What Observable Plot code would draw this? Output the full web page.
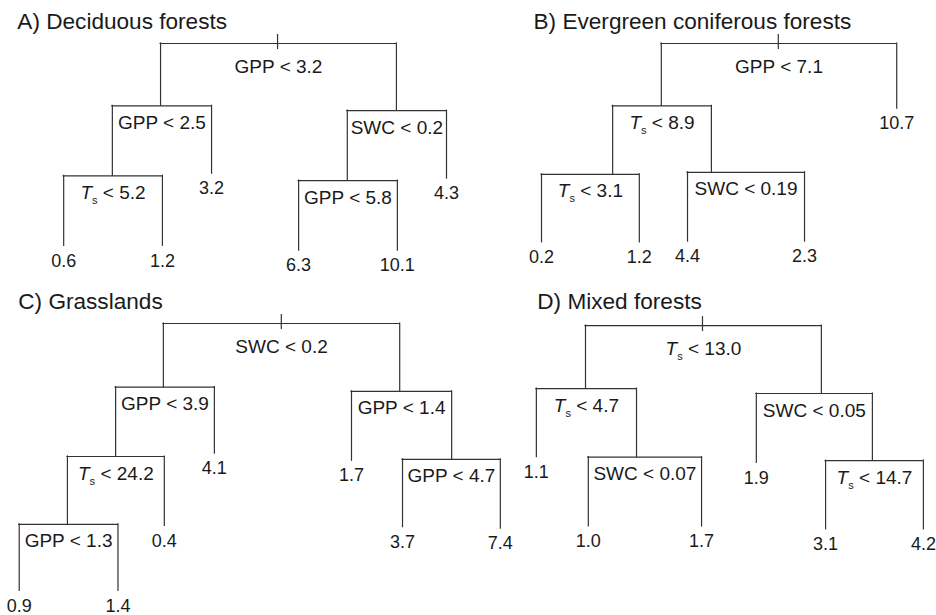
<!DOCTYPE html>
<html>
<head>
<meta charset="utf-8">
<script src="https://cdn.jsdelivr.net/npm/d3@7"></script>
<script src="https://cdn.jsdelivr.net/npm/@observablehq/plot@0.6"></script>
<style>
  html, body { margin: 0; padding: 0; background: #fff; }
  #chart { width: 936px; height: 615px; overflow: hidden; }
  #chart text { white-space: pre; }
</style>
</head>
<body>
<div id="chart"></div>
<script>
// ---------- Data ----------
const panelTitles = ["A) Deciduous forests", "B) Evergreen coniferous forests", "C) Grasslands", "D) Mixed forests"];
const panelCol = [0, 1, 0, 1];
const panelRow = [0, 0, 1, 1];
const titleX = [3.6, 13.9, 3.8, 14.7];   // panel-relative position (percent of panel width)

// A) Deciduous forests
const aParent = [-1, 0, 0, 1, 1, 2, 2, 3, 3, 5, 5];
const aLabel  = ["GPP < 3.2", "GPP < 2.5", "SWC < 0.2", "Ts < 5.2", "3.2", "GPP < 5.8", "4.3", "0.6", "1.2", "6.3", "10.1"];
const aX      = [59.2, 34.2, 84.6, 23.9, 45.1, 74.1, 95.3, 13.5, 34.6, 63.7, 84.8];
const aLevel  = [0, 0.89, 0.96, 1.89, 1.86, 1.96, 1.93, 2.89, 2.89, 2.96, 2.96];

// B) Evergreen coniferous forests
const bParent = [-1, 0, 0, 1, 1, 3, 3, 4, 4];
const bLabel  = ["GPP < 7.1", "Ts < 8.9", "10.7", "Ts < 3.1", "SWC < 0.19", "0.2", "1.2", "4.4", "2.3"];
const bX      = [66.2, 41.2, 91.5, 30.8, 51.9, 15.6, 36.5, 46.8, 71.8];
const bLevel  = [0, 0.89, 0.93, 1.87, 1.84, 2.84, 2.84, 2.83, 2.83];

// C) Grasslands
const cParent = [-1, 0, 0, 1, 1, 2, 2, 3, 3, 6, 6, 7, 7];
const cLabel  = ["SWC < 0.2", "GPP < 3.9", "GPP < 1.4", "Ts < 24.2", "4.1", "1.7", "GPP < 4.7", "GPP < 1.3", "0.4", "3.7", "7.4", "0.9", "1.4"];
const cX      = [60.0, 34.8, 85.3, 24.6, 45.7, 75.0, 96.4, 14.3, 35.0, 85.9, 106.8, 4.0, 25.1];
const cLevel  = [0, 0.91, 0.97, 1.90, 1.86, 1.96, 1.94, 2.87, 2.89, 2.91, 2.93, 3.82, 3.82];

// D) Mixed forests
const dParent = [-1, 0, 0, 1, 1, 2, 2, 4, 4, 6, 6];
const dLabel  = ["Ts < 13.0", "Ts < 4.7", "SWC < 0.05", "1.1", "SWC < 0.07", "1.9", "Ts < 14.7", "1.0", "1.7", "3.1", "4.2"];
const dX      = [50.0, 25.0, 75.4, 14.5, 35.9, 61.5, 86.3, 25.6, 49.8, 76.3, 97.2];
const dLevel  = [0.03, 0.93, 1.00, 1.91, 1.91, 1.99, 1.96, 2.90, 2.90, 2.94, 2.94];

// ---------- Layout / style ----------
const W = 936, H = 615, marginBottom = 55;
const cellH = (H - marginBottom) / 2;
const levelPx = 70, rootPx = 43;
const ink = "#333";
const textInk = "#1a1a1a";
const lineW = 1.2;
const font = "'Liberation Sans', Arial, Helvetica, sans-serif";

function buildTree(p, parents, labels, xs, levels) {
  const nodes = parents.map((par, i) => ({
    panel: p, col: panelCol[p], row: panelRow[p], id: i, parent: par,
    label: labels[i], x: xs[i], level: levels[i]
  }));
  nodes.forEach(n => {
    n.kids = nodes.filter(c => c.parent === n.id);
    if (n.parent >= 0) n.pLevel = nodes[n.parent].level;
    if (n.kids.length) {
      n.x1 = d3.min(n.kids, c => c.x);
      n.x2 = d3.max(n.kids, c => c.x);
      n.mid = (n.x1 + n.x2) / 2;
    }
  });
  return nodes;
}

const nodes = [
  buildTree(0, aParent, aLabel, aX, aLevel),
  buildTree(1, bParent, bLabel, bX, bLevel),
  buildTree(2, cParent, cLabel, cX, cLevel),
  buildTree(3, dParent, dLabel, dX, dLevel)
].flat();

const edges = nodes.filter(n => n.parent >= 0);
const splits = nodes.filter(n => n.kids.length);
const roots = splits.filter(n => n.parent < 0);
const inner = splits.filter(n => n.parent >= 0);
const leaves = nodes.filter(n => !n.kids.length);
const titles = panelTitles.map((t, i) => ({title: t, x: titleX[i], col: panelCol[i], row: panelRow[i]}));

const tickUp = 9 / levelPx, tickDown = 6 / levelPx;

const chart = Plot.plot({
  width: W,
  height: H,
  marginTop: 0,
  marginBottom: marginBottom,
  marginLeft: 0,
  marginRight: 0,
  style: {fontFamily: font, background: "#fff", color: textInk, overflow: "visible"},
  fx: {domain: [0, 1], padding: 0, axis: null},
  fy: {domain: [0, 1], padding: 0, axis: null},
  x: {domain: [0, 100], axis: null},
  y: {domain: [-rootPx / levelPx, (cellH - rootPx) / levelPx], reverse: true, axis: null},
  marks: [
    Plot.ruleX(edges, {x: "x", y1: "pLevel", y2: "level", fx: "col", fy: "row", stroke: ink, strokeWidth: lineW, strokeLinecap: "square"}),
    Plot.ruleY(splits, {y: "level", x1: "x1", x2: "x2", fx: "col", fy: "row", stroke: ink, strokeWidth: lineW, strokeLinecap: "square"}),
    Plot.ruleX(roots, {x: "x", y1: d => d.level - tickUp, y2: d => d.level + tickDown, fx: "col", fy: "row", stroke: ink, strokeWidth: lineW}),
    Plot.text(roots, {x: "mid", y: "level", text: "label", dy: 23, fontSize: 19, fill: textInk, fx: "col", fy: "row"}),
    Plot.text(inner, {x: "mid", y: "level", text: "label", dy: 17, fontSize: 19, fill: textInk, fx: "col", fy: "row"}),
    Plot.text(leaves, {x: "x", y: "level", text: "label", dy: 15, fontSize: 18, fill: textInk, fx: "col", fy: "row"}),
    Plot.text(titles, {x: "x", frameAnchor: "top", text: "title", textAnchor: "start", lineAnchor: "middle", dy: 21, fontSize: 22.6, fill: textInk, fx: "col", fy: "row"})
  ]
});

// Italic T with subscript s for soil temperature labels
d3.select(chart).selectAll("text").each(function () {
  const t = this.textContent;
  if (t.startsWith("Ts ")) {
    const s = d3.select(this);
    s.text(null);
    s.append("tspan").attr("font-style", "italic").text("T");
    s.append("tspan").attr("font-size", 11).attr("dy", 5).text("s");
    s.append("tspan").attr("dy", -5).text(t.slice(2));
  }
});

document.getElementById("chart").appendChild(chart);
</script>
</body>
</html>
